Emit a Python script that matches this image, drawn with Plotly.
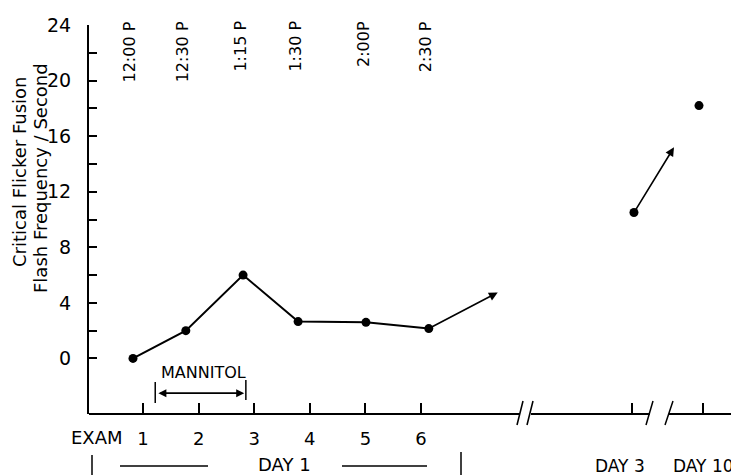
import plotly.graph_objects as go

# ---- data ----
exam_labels = ["1", "2", "3", "4", "5", "6"]
exam_tick_x = [1, 2, 3, 4, 5, 6]
exam_x = [0.82, 1.77, 2.80, 3.79, 5.01, 6.14]
exam_cff = [0.0, 2.0, 6.0, 2.65, 2.6, 2.15]
exam_times = ["12:00 P", "12:30 P", "1:15 P", "1:30 P", "2:00P", "2:30 P"]

later_labels = ["DAY 3", "DAY 10"]
later_tick_x = [9.8, 11.07]
later_x = [9.83, 11.0]
later_cff = [10.5, 18.2]

trend_arrows = [  # (from x, from y, to x, to y)
    (6.14, 2.15, 7.38, 4.75),
    (9.83, 10.5, 10.55, 15.2),
]
mannitol_span = [1.22, 2.85]

y_ticks = list(range(0, 25, 2))
y_ticklabels = [str(v) if v % 4 == 0 else "" for v in y_ticks]

# ---- layout geometry (page has an 8px body margin) ----
OFF = 8
W, H = 739 - OFF, 475 - OFF
PL, PR, PT, PB = 89, 739, 25, 414          # plot box in page pixels
L, R, T, B = PL - OFF, (739) - PR, PT - OFF, (475) - PB
PW, PH = PR - PL, PB - PT
X_RANGE = [1 - (143 - PL) / 55.6, 1 + (PR - 143) / 55.6]
Y_RANGE = [-4, 24]


def px(xp):
    return (xp - PL) / PW


def py(yp):
    return (PB - yp) / PH


FONT = "DejaVu Sans"
BLACK = "black"

fig = go.Figure()

fig.add_trace(go.Scatter(
    x=exam_x, y=exam_cff, mode="lines+markers",
    line=dict(color=BLACK, width=2),
    marker=dict(color=BLACK, size=9),
    showlegend=False, cliponaxis=False,
))
fig.add_trace(go.Scatter(
    x=later_x, y=later_cff, mode="markers",
    marker=dict(color=BLACK, size=9),
    showlegend=False, cliponaxis=False,
))

annotations = []
shapes = []

# trend arrows
for x0, y0, x1, y1 in trend_arrows:
    annotations.append(dict(
        x=x1, y=y1, ax=x0, ay=y0, xref="x", yref="y", axref="x", ayref="y",
        text="", showarrow=True, arrowhead=2, arrowsize=1.1, arrowwidth=1.6,
        arrowcolor=BLACK, standoff=0, startstandoff=0,
    ))

# time labels at top
for xv, t in zip(exam_x, exam_times):
    annotations.append(dict(
        x=xv, y=py(19), xref="x", yref="paper", text=t, textangle=-90,
        showarrow=False, xanchor="center", yanchor="top", xshift=-3,
        font=dict(family=FONT, size=16, color=BLACK),
    ))

# y-axis title (two lines)
annotations.append(dict(
    x=px(20), y=py(172), xref="paper", yref="paper", text="Critical Flicker Fusion",
    textangle=-90, showarrow=False, xanchor="center", yanchor="middle",
    font=dict(family=FONT, size=18, color=BLACK),
))
annotations.append(dict(
    x=px(40), y=py(178), xref="paper", yref="paper", text="Flash Frequency / Second",
    textangle=-90, showarrow=False, xanchor="center", yanchor="middle",
    font=dict(family=FONT, size=18, color=BLACK),
))

# Mannitol bracket
annotations.append(dict(
    x=sum(mannitol_span) / 2 + 0.05, y=-0.98, xref="x", yref="y", text="MANNITOL",
    showarrow=False, font=dict(family=FONT, size=16, color=BLACK),
))
annotations.append(dict(
    x=mannitol_span[1] - 0.03, y=-2.5, ax=mannitol_span[0] + 0.03, ay=-2.5,
    xref="x", yref="y", axref="x", ayref="y", text="", showarrow=True,
    arrowhead=2, arrowside="end+start", arrowsize=1, arrowwidth=1.6,
    arrowcolor=BLACK, standoff=0, startstandoff=0,
))
shapes.append(dict(type="line", xref="x", yref="y", x0=mannitol_span[0], x1=mannitol_span[0],
                   y0=-1.69, y1=-3.2, line=dict(color=BLACK, width=1.5)))
shapes.append(dict(type="line", xref="x", yref="y", x0=mannitol_span[1], x1=mannitol_span[1],
                   y0=-1.56, y1=-3.0, line=dict(color=BLACK, width=1.5)))

# x-axis line with breaks
for a, b in [(89, 520), (531, 650), (669, 739)]:
    shapes.append(dict(type="line", xref="paper", yref="paper", x0=px(a), x1=px(b),
                       y0=0, y1=0, line=dict(color=BLACK, width=2)))
for xb, xt in [(517, 523), (527, 533), (646, 653), (665, 673)]:
    shapes.append(dict(type="line", xref="paper", yref="paper", x0=px(xb), x1=px(xt),
                       y0=py(425), y1=py(401), line=dict(color=BLACK, width=1.5)))

# EXAM label
annotations.append(dict(
    x=px(97), y=py(437), xref="paper", yref="paper", text="EXAM", showarrow=False,
    font=dict(family=FONT, size=18, color=BLACK), xanchor="center", yanchor="middle",
))

# Day 1 bracket row
shapes.append(dict(type="line", xref="paper", yref="paper", x0=px(92), x1=px(92),
                   y0=py(455), y1=py(476), line=dict(color=BLACK, width=1.5)))
shapes.append(dict(type="line", xref="paper", yref="paper", x0=px(461), x1=px(461),
                   y0=py(452), y1=py(476), line=dict(color=BLACK, width=1.5)))
for a, b in [(120, 208), (342, 427)]:
    shapes.append(dict(type="line", xref="paper", yref="paper", x0=px(a), x1=px(b),
                       y0=py(466), y1=py(466), line=dict(color=BLACK, width=1.5)))
annotations.append(dict(
    x=px(284), y=py(464), xref="paper", yref="paper", text="DAY 1", showarrow=False,
    font=dict(family=FONT, size=18, color=BLACK), xanchor="center", yanchor="middle",
))
for lab, xpix, anchor in zip(later_labels, [620, 736], ["center", "right"]):
    annotations.append(dict(
        x=px(xpix), y=py(466), xref="paper", yref="paper", text=lab, showarrow=False,
        font=dict(family=FONT, size=17, color=BLACK),
        xanchor=anchor, yanchor="middle",
    ))

fig.update_layout(
    width=W, height=H, autosize=False,
    margin=dict(l=L, r=R, t=T, b=B, pad=0),
    paper_bgcolor="white", plot_bgcolor="white",
    showlegend=False,
    annotations=annotations, shapes=shapes,
    xaxis=dict(
        range=X_RANGE, showgrid=False, zeroline=False, showline=False,
        tickmode="array", tickvals=exam_tick_x + later_tick_x,
        ticktext=exam_labels + ["", ""],
        ticks="inside", ticklen=11, tickwidth=1.5, tickcolor=BLACK,
        tickfont=dict(family=FONT, size=18, color=BLACK),
        ticklabelstandoff=12,
    ),
    yaxis=dict(
        range=Y_RANGE, showgrid=False, zeroline=False,
        showline=True, linecolor=BLACK, linewidth=2,
        tickmode="array", tickvals=y_ticks, ticktext=y_ticklabels,
        ticks="inside", ticklen=8, tickwidth=1.5, tickcolor=BLACK,
        tickfont=dict(family=FONT, size=19, color=BLACK),
        ticklabelstandoff=12,
    ),
)

fig.write_html("out.html")
